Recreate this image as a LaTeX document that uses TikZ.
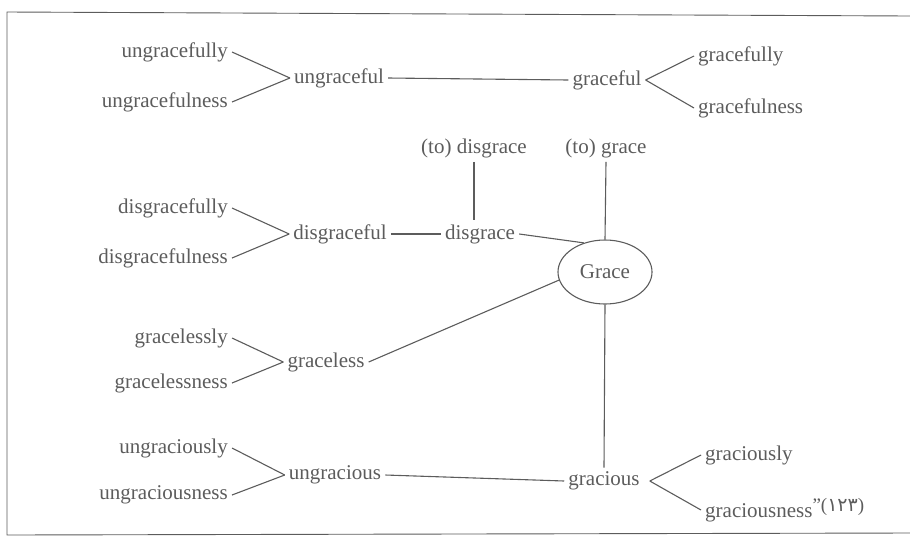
\documentclass[tikz,border=0pt]{standalone}
\usepackage{fontspec}
\setmainfont{Liberation Serif}
\newfontfamily\arabicfont[Script=Arabic]{DejaVu Sans}
\usetikzlibrary{shapes.geometric}
\definecolor{ink}{HTML}{5C5C5C}

\begin{document}
\begin{tikzpicture}[x=1pt, y=-1pt, color=ink]
        \tikzstyle{word}=[inner sep=4pt, text=ink, font=\fontsize{21}{24}\selectfont]
        \tikzstyle{every edge}=[draw=ink, line width=1.1pt]

        \useasboundingbox (0,0) rectangle (910,550);
        % frame of the scan
        \draw[line width=0.9pt] (910,16) -- (7,12) -- (7,535) -- (910,533);

        % top row
        \node[word, anchor=east] (ugfully)   at (232,52)  {ungracefully};
        \node[word, anchor=east] (ugfulness) at (232,102) {ungracefulness};
        \node[word]              (ugful)     at (339,78)  {ungraceful};
        \node[word]              (gful)      at (607,80)  {graceful};
        \node[word, anchor=west] (gfully)    at (694,56)  {gracefully};
        \node[word, anchor=west] (gfulness)  at (694,108) {gracefulness};

        % verbs
        \node[word]              (todis)     at (474,148) {(to) disgrace};
        \node[word]              (tograce)   at (606,148) {(to) grace};

        % disgrace row
        \node[word, anchor=east] (dgfully)   at (232,208) {disgracefully};
        \node[word, anchor=east] (dgfulness) at (232,258) {disgracefulness};
        \node[word]              (dgful)     at (340,234) {disgraceful};
        \node[word]              (dis)       at (480,234) {disgrace};
        \node[word, ellipse, draw=ink, line width=1.1pt,
              minimum width=94pt, minimum height=64pt] (G) at (605,272) {Grace};

        % graceless row
        \node[word, anchor=east] (glessly)   at (232,338) {gracelessly};
        \node[word, anchor=east] (glessness) at (232,383) {gracelessness};
        \node[word]              (gless)     at (326,362) {graceless};

        % bottom row
        \node[word, anchor=east] (ugcly)     at (232,448) {ungraciously};
        \node[word, anchor=east] (ugcness)   at (232,495) {ungraciousness};
        \node[word]              (ugc)       at (335,475) {ungracious};
        \node[word]              (gc)        at (604,481) {gracious};
        \node[word, anchor=west] (gcly)      at (701,455) {graciously};
        \node[word, anchor=west] (gcness)    at (701,510)
            {graciousness\raisebox{6pt}{\fontsize{19}{21}\selectfont"(\arabicfont ١٢٣\normalfont)}};

        \path
            (ugfully.east)   edge (ugful.west)
            (ugfulness.east) edge (ugful.west)
            (ugful.east)     edge (gful.west)
            (gful.east)      edge (gfully.west)
            (gful.east)      edge (gfulness.west)
            (todis.south)    edge (todis.south |- dis.north)
            (tograce.south)  edge (G.north)
            (dgfully.east)   edge (dgful.west)
            (dgfulness.east) edge (dgful.west)
            (dgful.east)     edge (dis.west)
            (dis.east)       edge (G.126)
            (glessly.east)   edge (gless.west)
            (glessness.east) edge (gless.west)
            (gless.east)     edge (G.190)
            (G.south)        edge (gc.north)
            (ugcly.east)     edge (ugc.west)
            (ugcness.east)   edge (ugc.west)
            (ugc.east)       edge (gc.west)
            ([xshift=6pt]gc.east) edge (gcly.west)
            ([xshift=6pt]gc.east) edge (gcness.west)
        ;
\end{tikzpicture}
\end{document}
